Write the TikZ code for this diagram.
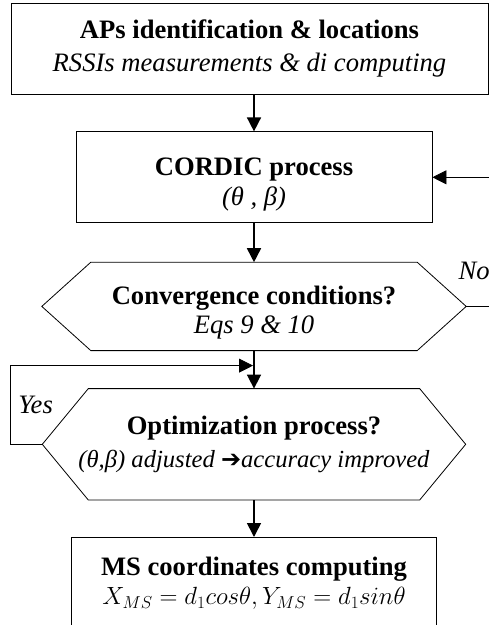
\documentclass[tikz,border=0pt]{standalone}
\usepackage{fontspec}
\setmainfont{Liberation Serif}
\newfontfamily\symbolfont{DejaVu Sans}
\usetikzlibrary{arrows.meta, positioning}
\newcommand{\lift}[1]{\rule{0pt}{#1}}

\begin{document}
\begin{tikzpicture}[
        x=1pt, y=1pt,
        node distance=37pt,
        font=\fontsize{26.6}{33}\selectfont,
        >={Triangle[length=14pt, width=14pt]},
        % Styles
        process/.style={rectangle, draw, line width=0.8pt, minimum height=91pt, align=center},
        decision/.style={rectangle, minimum height=88pt, align=center},
        lbl/.style={font=\fontsize{26.6}{33}\selectfont\itshape},
        arrow/.style={line width=1.6pt, ->},
        loop/.style={line width=0.8pt, ->}
    ]

    % --- FRAME ---
    \path[use as bounding box] (0,0) rectangle (489,-625);
    \clip (0,0) rectangle (489,-625);

    % --- MAIN COLUMN ---
    \node (aps) [process, minimum width=477pt] at (249.5,-48.5)
        {\textbf{APs identification \& locations}\\\textit{RSSIs measurements \& di computing}};
    \node (cordic) [process, minimum width=356pt, below=37pt of aps, xshift=4.5pt]
        {\lift{33pt}\textbf{CORDIC process}\\[-3pt]\textit{(θ , β)}};
    \node (conv) [decision, minimum width=424pt, below=39pt of cordic]
        {\lift{31pt}\textbf{Convergence conditions?}\\[-4.5pt]\textit{Eqs 9 \& 10}};
    \node (opt) [decision, minimum width=423pt, minimum height=111pt, below=38pt of conv]
        {\textbf{Optimization process?}\\[0pt]{\fontsize{24.6}{33}\selectfont\textit{(θ,β) adjusted}
        {\symbolfont\bfseries\fontsize{24}{33}\selectfont ➔}\textit{accuracy improved}}};
    \node (ms) [process, minimum width=365pt, minimum height=92pt, below=37pt of opt]
        {\textbf{MS coordinates computing}\\[-4.5pt]$X_{MS}=d_1cos\theta, Y_{MS}=d_1sin\theta$};

    % --- HEXAGON OUTLINES ---
    \draw[line width=0.8pt] (conv.west) -- ([xshift=49pt]conv.north west) -- ([xshift=-49pt]conv.north east)
        -- (conv.east) -- ([xshift=-49pt]conv.south east) -- ([xshift=49pt]conv.south west) -- cycle;
    \draw[line width=0.8pt] (opt.west) -- ([xshift=46pt]opt.north west) -- ([xshift=-46pt]opt.north east)
        -- (opt.east) -- ([xshift=-46pt]opt.south east) -- ([xshift=46pt]opt.south west) -- cycle;

    % --- MAIN FLOW CONNECTIONS ---
    \draw [arrow] (aps.south -| cordic.north) -- (cordic.north);
    \draw [arrow] (cordic) -- (conv.north);
    \draw [arrow] (conv) -- (opt.north);
    \draw [arrow] (opt) -- (ms.north);

    % --- NO: back to CORDIC (runs off the right edge) ---
    \coordinate (back) at ([xshift=40pt]conv.east);
    \draw [loop] (conv.east) -- (back) |- (cordic.east);
    \node (no) [lbl, above right=23pt and -11pt of conv.east] {No};

    % --- YES: back into the column ---
    \coordinate [below=15pt of conv.south] (merge);
    \draw [loop] (opt.west) -- (opt.west -| aps.west)
        |- node[lbl, pos=0.25, right, xshift=4pt] (yes) {Yes} ([xshift=-1pt]merge);

\end{tikzpicture}
\end{document}
